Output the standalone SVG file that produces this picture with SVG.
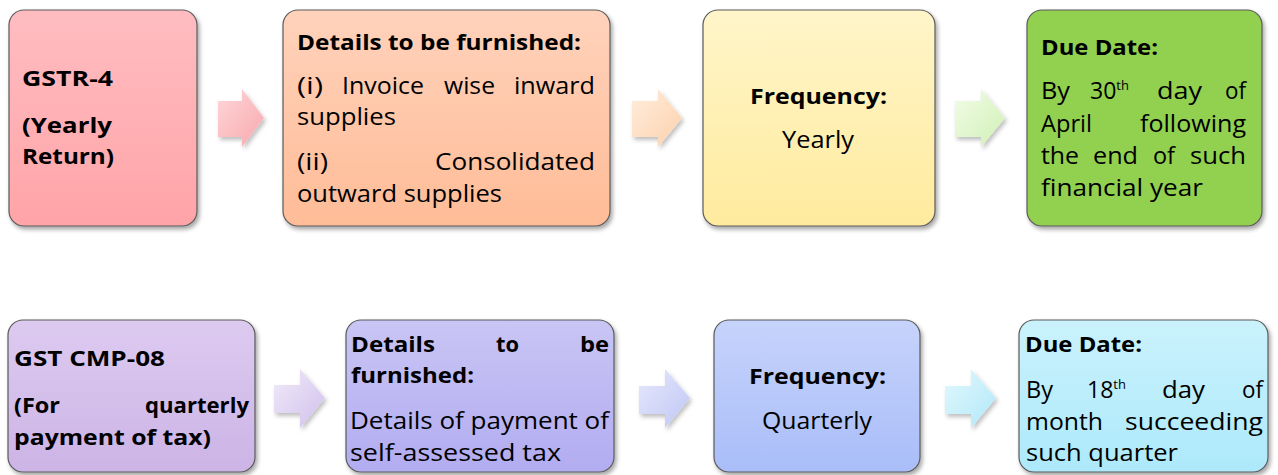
<svg xmlns="http://www.w3.org/2000/svg" width="1278" height="475" viewBox="0 0 1278 475">
<defs>
<style>
.box{stroke:#5a5a5a;stroke-width:1.2;filter:url(#sh)}
.arr{filter:url(#sh2)}
text{font-family:"Open Sans","Noto Sans",sans-serif;fill:#000}
.b{font-weight:700;font-size:22px}
.r{font-size:23px}
.c{text-anchor:middle}
.e{text-anchor:end}
.sup{font-size:13px}
</style>
<filter id="sh" x="-10%" y="-10%" width="125%" height="125%"><feDropShadow dx="2" dy="3" stdDeviation="2" flood-color="#000" flood-opacity="0.35"/></filter>
<filter id="sh2" x="-20%" y="-20%" width="150%" height="150%"><feDropShadow dx="2" dy="3" stdDeviation="2" flood-color="#000" flood-opacity="0.25"/></filter>
<linearGradient id="g1" x1="0" y1="0" x2="0" y2="1"><stop offset="0" stop-color="#ffbdc1"/><stop offset="1" stop-color="#ffa4a8"/></linearGradient>
<linearGradient id="g2" x1="0" y1="0" x2="0" y2="1"><stop offset="0" stop-color="#ffd2bb"/><stop offset="1" stop-color="#ffbc97"/></linearGradient>
<linearGradient id="g3" x1="0" y1="0" x2="0" y2="1"><stop offset="0" stop-color="#fff5c9"/><stop offset="1" stop-color="#ffeb9e"/></linearGradient>
<linearGradient id="g5" x1="0" y1="0" x2="0" y2="1"><stop offset="0" stop-color="#ddcaf0"/><stop offset="1" stop-color="#ccb4e6"/></linearGradient>
<linearGradient id="g6" x1="0" y1="0" x2="0" y2="1"><stop offset="0" stop-color="#c9c5f4"/><stop offset="1" stop-color="#b2acf1"/></linearGradient>
<linearGradient id="g7" x1="0" y1="0" x2="0" y2="1"><stop offset="0" stop-color="#c6d3fb"/><stop offset="1" stop-color="#a9bdf8"/></linearGradient>
<linearGradient id="g8" x1="0" y1="0" x2="0" y2="1"><stop offset="0" stop-color="#caf2fc"/><stop offset="1" stop-color="#ade9fb"/></linearGradient>
<linearGradient id="a1" x1="0" y1="0" x2="1" y2="1"><stop offset="0" stop-color="#ffd6d8"/><stop offset="1" stop-color="#f7a9ae"/></linearGradient>
<linearGradient id="a2" x1="0" y1="0" x2="1" y2="1"><stop offset="0" stop-color="#ffeedd"/><stop offset="1" stop-color="#fdd0ac"/></linearGradient>
<linearGradient id="a3" x1="0" y1="0" x2="1" y2="1"><stop offset="0" stop-color="#f2fce8"/><stop offset="1" stop-color="#d0f0b5"/></linearGradient>
<linearGradient id="a5" x1="0" y1="0" x2="1" y2="1"><stop offset="0" stop-color="#f1ebf9"/><stop offset="1" stop-color="#d0c0ec"/></linearGradient>
<linearGradient id="a6" x1="0" y1="0" x2="1" y2="1"><stop offset="0" stop-color="#e7e9fc"/><stop offset="1" stop-color="#bfc6f5"/></linearGradient>
<linearGradient id="a7" x1="0" y1="0" x2="1" y2="1"><stop offset="0" stop-color="#e3f8fd"/><stop offset="1" stop-color="#b0e8f9"/></linearGradient>
</defs>
<rect width="1278" height="475" fill="#fff"/>

<g id="connectors">
<path class="arr" fill="url(#a1)" d="M218,101 H242 V89 L264,118 L242,147 V137 H218 Z"/>
<path class="arr" fill="url(#a2)" d="M632,101 H658 V89 L682,118 L658,147 V137 H632 Z"/>
<path class="arr" fill="url(#a3)" d="M955,101 H981 V89 L1005,118 L981,147 V137 H955 Z"/>
<path class="arr" fill="url(#a5)" d="M274,385 H300 V369 L325,398 L300,428 V413 H274 Z"/>
<path class="arr" fill="url(#a6)" d="M639,386 H665 V369 L690,398 L665,428 V414 H639 Z"/>
<path class="arr" fill="url(#a7)" d="M945,386 H971 V369 L996,398 L971,428 V414 H945 Z"/>
</g>

<g id="n1">
<rect class="box" x="9" y="10" width="188" height="216" rx="15" fill="url(#g1)"/>
<text class="b" x="22" y="86" textLength="91" lengthAdjust="spacingAndGlyphs">GSTR-4</text>
<text class="b" x="22" y="133" textLength="90" lengthAdjust="spacingAndGlyphs">(Yearly</text>
<text class="b" x="22" y="164" textLength="92" lengthAdjust="spacingAndGlyphs">Return)</text>
</g>

<g id="n2">
<rect class="box" x="283" y="10" width="327" height="216" rx="15" fill="url(#g2)"/>
<text class="b" x="297" y="50" textLength="284" lengthAdjust="spacingAndGlyphs">Details to be furnished:</text>
<text class="r" x="297" y="94" textLength="26" lengthAdjust="spacingAndGlyphs">(i)</text>
<text class="r" x="342" y="94" textLength="82" lengthAdjust="spacingAndGlyphs">Invoice</text>
<text class="r" x="444" y="94" textLength="51" lengthAdjust="spacingAndGlyphs">wise</text>
<text class="r" x="514" y="94" textLength="81" lengthAdjust="spacingAndGlyphs">inward</text>
<text class="r" x="297" y="125" textLength="99" lengthAdjust="spacingAndGlyphs">supplies</text>
<text class="r" x="297" y="170" textLength="31" lengthAdjust="spacingAndGlyphs">(ii)</text>
<text class="r" x="435" y="170" textLength="160" lengthAdjust="spacingAndGlyphs">Consolidated</text>
<text class="r" x="297" y="202" textLength="205" lengthAdjust="spacingAndGlyphs">outward supplies</text>
</g>

<g id="n3">
<rect class="box" x="703" y="10" width="232" height="216" rx="15" fill="url(#g3)"/>
<text class="b" x="750" y="104" textLength="137" lengthAdjust="spacingAndGlyphs">Frequency:</text>
<text class="r" x="782" y="148" textLength="72" lengthAdjust="spacingAndGlyphs">Yearly</text>
</g>

<g id="n4">
<rect class="box" x="1027" y="10" width="235" height="216" rx="15" fill="#92d050"/>
<text class="b" x="1041" y="55" textLength="117" lengthAdjust="spacingAndGlyphs">Due Date:</text>
<text class="r" x="1041" y="99" textLength="29" lengthAdjust="spacingAndGlyphs">By</text>
<text class="r" y="99"><tspan x="1090">30</tspan><tspan class="sup" dy="-9">th</tspan></text>
<text class="r" x="1157" y="99" textLength="45" lengthAdjust="spacingAndGlyphs">day</text>
<text class="r" x="1225" y="99" textLength="21" lengthAdjust="spacingAndGlyphs">of</text>
<text class="r" x="1041" y="132" textLength="51" lengthAdjust="spacingAndGlyphs">April</text>
<text class="r" x="1140" y="132" textLength="106" lengthAdjust="spacingAndGlyphs">following</text>
<text class="r" x="1041" y="164" textLength="38" lengthAdjust="spacingAndGlyphs">the</text>
<text class="r" x="1093" y="164" textLength="45" lengthAdjust="spacingAndGlyphs">end</text>
<text class="r" x="1153" y="164" textLength="22" lengthAdjust="spacingAndGlyphs">of</text>
<text class="r" x="1190" y="164" textLength="56" lengthAdjust="spacingAndGlyphs">such</text>
<text class="r" x="1041" y="196" textLength="162" lengthAdjust="spacingAndGlyphs">financial year</text>
</g>

<g id="n5">
<rect class="box" x="8" y="320" width="247" height="152" rx="15" fill="url(#g5)"/>
<text class="b" x="14" y="366" textLength="151" lengthAdjust="spacingAndGlyphs">GST CMP-08</text>
<text class="b" x="14" y="413" textLength="46" lengthAdjust="spacingAndGlyphs">(For</text>
<text class="b" x="145" y="413" textLength="104" lengthAdjust="spacingAndGlyphs">quarterly</text>
<text class="b" x="14" y="445" textLength="197" lengthAdjust="spacingAndGlyphs">payment of tax)</text>
</g>

<g id="n6">
<rect class="box" x="346" y="320" width="268" height="152" rx="15" fill="url(#g6)"/>
<text class="b" x="351" y="352" textLength="84" lengthAdjust="spacingAndGlyphs">Details</text>
<text class="b" x="496" y="352" textLength="23" lengthAdjust="spacingAndGlyphs">to</text>
<text class="b" x="580" y="352" textLength="29" lengthAdjust="spacingAndGlyphs">be</text>
<text class="b" x="351" y="383" textLength="123" lengthAdjust="spacingAndGlyphs">furnished:</text>
<text class="r" x="350" y="429" textLength="259" lengthAdjust="spacingAndGlyphs">Details of payment of</text>
<text class="r" x="350" y="461" textLength="211" lengthAdjust="spacingAndGlyphs">self-assessed tax</text>
</g>

<g id="n7">
<rect class="box" x="714" y="320" width="206" height="152" rx="15" fill="url(#g7)"/>
<text class="b" x="749" y="384" textLength="137" lengthAdjust="spacingAndGlyphs">Frequency:</text>
<text class="r" x="762" y="429" textLength="110" lengthAdjust="spacingAndGlyphs">Quarterly</text>
</g>

<g id="n8">
<rect class="box" x="1019" y="320" width="249" height="152" rx="15" fill="url(#g8)"/>
<text class="b" x="1025" y="352" textLength="117" lengthAdjust="spacingAndGlyphs">Due Date:</text>
<text class="r" x="1026" y="398" textLength="27" lengthAdjust="spacingAndGlyphs">By</text>
<text class="r" y="398"><tspan x="1087">18</tspan><tspan class="sup" dy="-9">th</tspan></text>
<text class="r" x="1162" y="398" textLength="43" lengthAdjust="spacingAndGlyphs">day</text>
<text class="r" x="1242" y="398" textLength="21" lengthAdjust="spacingAndGlyphs">of</text>
<text class="r" x="1026" y="430" textLength="77" lengthAdjust="spacingAndGlyphs">month</text>
<text class="r" x="1125" y="430" textLength="138" lengthAdjust="spacingAndGlyphs">succeeding</text>
<text class="r" x="1026" y="461" textLength="152" lengthAdjust="spacingAndGlyphs">such quarter</text>
</g>
</svg>
